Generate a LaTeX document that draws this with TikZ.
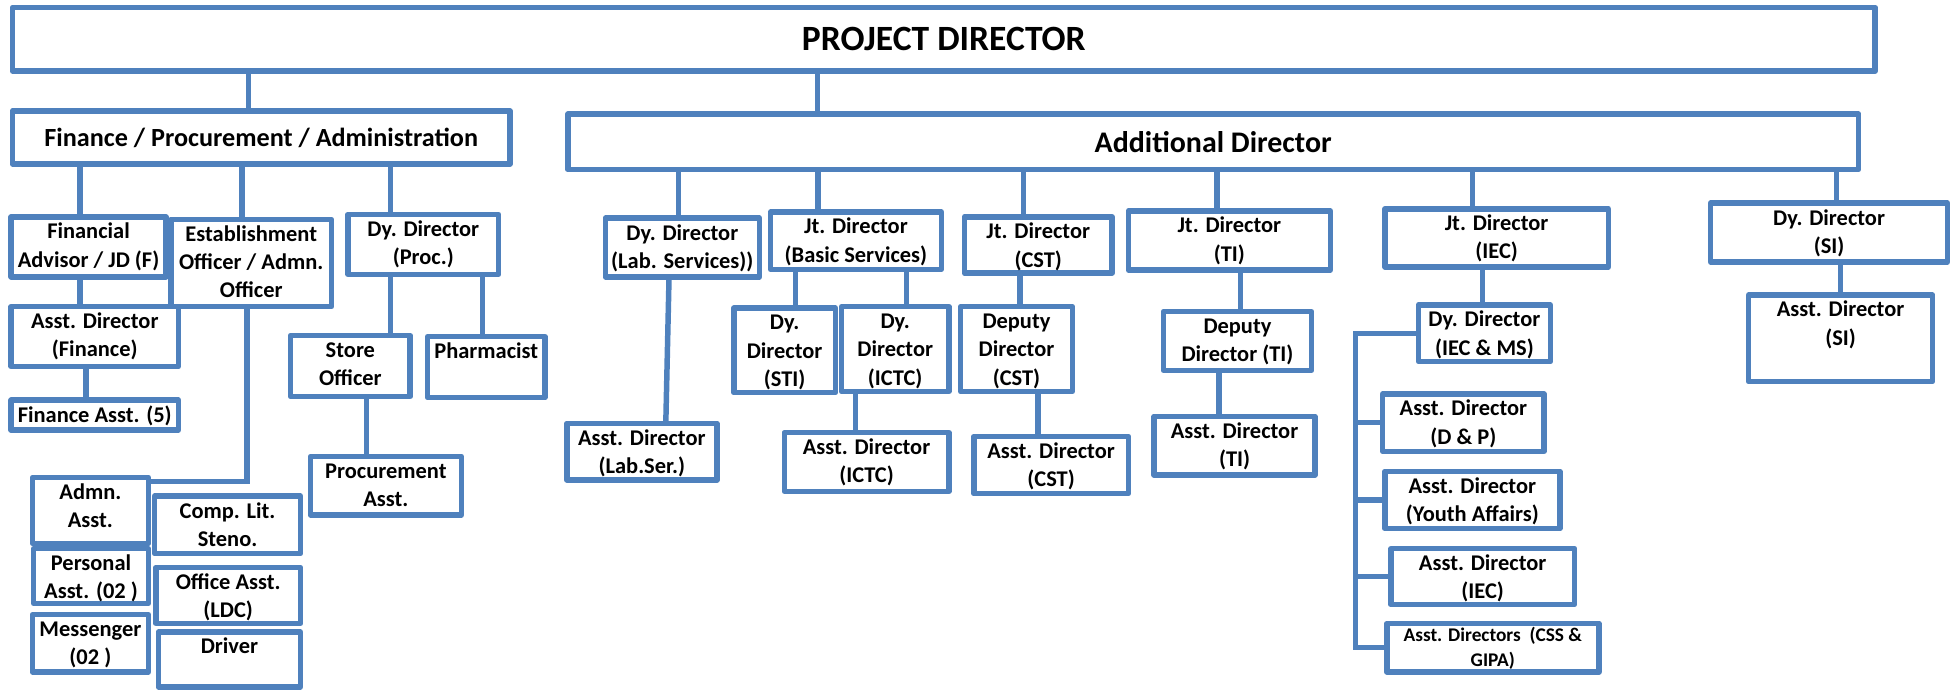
\documentclass[tikz,border=0pt]{standalone}
\usepackage{fontspec}
\setmainfont{Carlito}
\definecolor{ob}{HTML}{4F81BD}
\tikzset{
  box/.style={draw=ob, line width=4.4pt, line join=round, inner sep=0pt, outer sep=0pt, anchor=north west, font=\fontsize{18}{22.7}\selectfont\bfseries},
  cbox/.style={draw=ob, line width=4.4pt, line join=round, inner sep=0pt, outer sep=0pt},
  conn/.style={draw=ob, line width=4.4pt},
}
% top-aligned box: name, x1, y1, x2, y2, text
\newcommand\bx[6]{%
  \pgfmathsetmacro\bw{#4-#2}%
  \pgfmathsetmacro\bh{#5-#3}%
  \node[box] (#1) at (#2,#3) {\parbox[c][\bh pt][t]{\bw pt}{\centering\rule{0pt}{17.5pt}#6\par}};%
}
% centred box: name, x1, y1, x2, y2, font size, text
\newcommand\cbx[7]{%
  \pgfmathsetmacro\bw{#4-#2}%
  \pgfmathsetmacro\bh{#5-#3}%
  \pgfmathsetmacro\cx{(#2+#4)/2}%
  \pgfmathsetmacro\cy{(#3+#5)/2}%
  \node[cbox, minimum width=\bw pt, minimum height=\bh pt, font=\fontsize{#6}{#6}\selectfont\bfseries] (#1) at (\cx,\cy) {#7};%
}
\newcommand\vl[3]{\draw[conn] (#1.south -| #3,0) -- (#2.north -| #3,0);}
\begin{document}
\begin{tikzpicture}[x=1pt,y=-1pt]
\useasboundingbox (0,0) rectangle (1568,553);
% top levels
\cbx{pd}{10}{6}{1504}{57}{28.5}{PROJECT DIRECTOR}
\cbx{fin}{10}{89}{409}{131.5}{21}{Finance / Procurement / Administration}
\cbx{ad}{455.5}{91.4}{1490.6}{136}{24}{Additional Director}
% finance / procurement / administration branch
\bx{fa}{9}{174}{133}{222}{Financial\\Advisor / JD (F)}
\bx{estab}{137}{176}{266}{246}{Establishment\\Officer / Admn.\\Officer}
\bx{dyproc}{279}{172}{400}{220}{Dy. Director\\(Proc.)}
\bx{asstfin}{9}{246}{143}{294}{Asst. Director\\(Finance)}
\bx{finasst}{9}{321}{143}{345}{Finance Asst. (5)}
\bx{store}{233}{269}{329}{318}{Store\\Officer}
\bx{pharm}{343}{270}{437}{319}{Pharmacist}
\bx{procasst}{249}{366}{370}{413}{Procurement\\Asst.}
\bx{admn}{26}{383}{119}{436}{Admn.\\Asst.}
\bx{personal}{27}{440}{119}{484}{Personal\\Asst. (02 )}
\bx{messenger}{26}{493}{119}{539}{Messenger\\(02 )}
\bx{complit}{124}{398}{241}{444}{Comp. Lit.\\Steno.}
\bx{office}{125}{455}{241}{500}{Office Asst.\\(LDC)}
\bx{driver}{127}{507}{241}{551}{Driver}
% additional director branch
\bx{labserv}{485.5}{175}{609}{222}{Dy. Director\\(Lab. Services))}
\bx{basic}{618}{170}{755}{216}{Jt. Director\\(Basic Services)}
\bx{cst}{773.4}{174}{892}{219}{Jt. Director\\(CST)}
\bx{sti}{588.6}{247}{670}{315}{Dy.\\Director\\(STI)}
\bx{ictc}{675}{246}{761}{314}{Dy.\\Director\\(ICTC)}
\bx{depcst}{770.5}{246}{860}{314}{Deputy\\Director\\(CST)}
\bx{asstlab}{454.6}{339.5}{575}{385}{Asst. Director\\(Lab.Ser.)}
\bx{asstictc}{629}{347}{761}{394}{Asst. Director\\(ICTC)}
\bx{asstcst}{781}{350}{905}{396}{Asst. Director\\(CST)}
\bx{ti}{905}{169.2}{1067}{216.6}{Jt. Director\\(TI)}
\bx{depti}{933}{250}{1052}{297}{Deputy\\Director (TI)}
\bx{asstti}{925.6}{334}{1054.7}{381}{Asst. Director\\(TI)}
\bx{iec}{1110.7}{167.5}{1290}{214}{Jt. Director\\(IEC)}
\bx{dyiec}{1137.6}{244.6}{1243.5}{290}{Dy. Director\\(IEC \& MS)}
\bx{dp}{1109}{316}{1238.4}{362}{Asst. Director\\(D \& P)}
\bx{youth}{1110.7}{378}{1251}{424}{Asst. Director\\(Youth Affairs)}
\bx{aiec}{1115.6}{440}{1262.8}{485}{Asst. Director\\(IEC)}
\node[box, font=\fontsize{15.5}{19.5}\selectfont\bfseries] (css) at (1112.3,500) {\parbox[c][39pt][t]{170pt}{\centering\rule{0pt}{14.7pt}Asst. Directors\ \ (CSS \&\\GIPA)\par}};
\bx{si}{1372}{163}{1562}{210}{Dy. Director\\(SI)}
\bx{asstsi}{1402.4}{236.6}{1550}{306}{Asst. Director\\(SI)}
% connectors
\vl{pd}{fin}{199.5}
\vl{pd}{ad}{655.7}
\vl{fin}{fa}{64}
\vl{fin}{estab}{194}
\vl{fin}{dyproc}{313}
\vl{fa}{asstfin}{64}
\vl{asstfin}{finasst}{69}
\vl{dyproc}{store}{313}
\vl{dyproc}{pharm}{387}
\vl{store}{procasst}{294}
\draw[conn] (estab.south -| 198,0) |- (admn.east |- 0,386);
\vl{ad}{labserv}{544}
\vl{ad}{basic}{656}
\vl{ad}{cst}{821}
\vl{ad}{ti}{976}
\vl{ad}{iec}{1181}
\vl{ad}{si}{1473}
\draw[conn] (labserv.south -| 536.6,0) -- (asstlab.north -| 534,0);
\vl{basic}{sti}{638}
\vl{basic}{ictc}{727}
\vl{ictc}{asstictc}{686}
\vl{cst}{depcst}{818}
\vl{depcst}{asstcst}{832.6}
\vl{ti}{depti}{995}
\vl{depti}{asstti}{977.7}
\vl{iec}{dyiec}{1189}
\vl{si}{asstsi}{1476}
\coordinate (bus) at (1087,0);
\draw[conn, line join=miter] (dyiec.west) -| (bus |- css.west) -- (css.west);
\draw[conn] (bus |- dp.west) -- (dp.west);
\draw[conn] (bus |- youth.west) -- (youth.west);
\draw[conn] (bus |- aiec.west) -- (aiec.west);
\end{tikzpicture}
\end{document}
